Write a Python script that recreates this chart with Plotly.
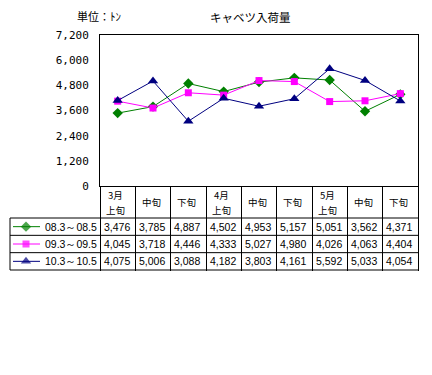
import plotly.graph_objects as go

# ---- data ----
periods = ["3月上旬", "3月中旬", "3月下旬", "4月上旬", "4月中旬", "4月下旬", "5月上旬", "5月中旬", "5月下旬"]
header_month = ["3月", "", "", "4月", "", "", "5月", "", ""]
header_part = ["上旬", "中旬", "下旬", "上旬", "中旬", "下旬", "上旬", "中旬", "下旬"]
series_names = ["08.3～08.5", "09.3～09.5", "10.3～10.5"]
s2008 = [3476, 3785, 4887, 4502, 4953, 5157, 5051, 3562, 4371]
s2009 = [4045, 3718, 4446, 4333, 5027, 4980, 4026, 4063, 4404]
s2010 = [4075, 5006, 3088, 4182, 3803, 4161, 5592, 5033, 4054]
y_ticks = [0, 1200, 2400, 3600, 4800, 6000, 7200]
title_text = "キャベツ入荷量"
unit_text = "単位：ﾄﾝ"

series = [s2008, s2009, s2010]
colors = ["#008000", "#FF00FF", "#000080"]
symbols = ["diamond", "square", "triangle-up"]
msizes = [8, 7, 9]

# ---- layout geometry (page pixels; the page body adds an 8px offset) ----
OFF = 8
W, H = 432 - OFF, 375 - OFF
PX_L, PX_R, PX_T, PX_B = 10 - OFF, 418 - OFF, 35 - OFF, 270 - OFF
PLOT_L, PLOT_B = 100 - OFF, 186 - OFF
ROW_TOP = 218 - OFF


def px_x(p):
    return (p - PX_L) / (PX_R - PX_L)


def px_y(p):
    return (PX_B - p) / (PX_B - PX_T)


CJK = "Noto Sans CJK JP"
NUMF = "Liberation Sans"

fig = go.Figure()

for k, vals in enumerate(series):
    fig.add_trace(go.Scatter(
        x=periods, y=vals, mode="lines+markers", name=series_names[k],
        line=dict(color=colors[k], width=1),
        marker=dict(symbol=symbols[k], size=msizes[k], color=colors[k], line=dict(width=0)),
        xaxis="x", yaxis="y", showlegend=False, cliponaxis=False,
    ))
    # legend key inside the table's first column
    row = 2.5 - k
    fig.add_trace(go.Scatter(
        x=[3 / 90, 16 / 90, 30 / 90], y=[row, row, row], mode="lines+markers",
        line=dict(color=colors[k], width=1),
        marker=dict(symbol=symbols[k], size=[0, msizes[k], 0], color=colors[k], line=dict(width=0)),
        xaxis="x2", yaxis="y2", showlegend=False, hoverinfo="skip", cliponaxis=False,
    ))

annotations = []
# header row
hdr_mid = (PLOT_B + ROW_TOP) / 2
for cat, mon, part in zip(periods, header_month, header_part):
    if mon:
        annotations.append(dict(
            text=mon, x=cat, xref="x", y=px_y(hdr_mid - 7.5), yref="paper",
            xanchor="center", yanchor="middle", borderpad=0,
            showarrow=False, xshift=-2, font=dict(family=CJK, size=9.5, color="black"),
        ))
        ypart = hdr_mid + 7.5
    else:
        ypart = hdr_mid
    annotations.append(dict(
        text=part, x=cat, xref="x", y=px_y(ypart), yref="paper",
        xanchor="center", yanchor="middle", borderpad=0,
        showarrow=False, xshift=-2, font=dict(family=CJK, size=9.5, color="black"),
    ))
# data rows
for k, vals in enumerate(series):
    for cat, v in zip(periods, vals):
        annotations.append(dict(
            text=f"{v:,}", x=cat, xref="x", y=2.5 - k, yref="y2",
            xanchor="center", yanchor="middle",
            showarrow=False, xshift=-1, font=dict(family=NUMF, size=10.5, color="black"),
        ))
    annotations.append(dict(
        text=series_names[k], x=33 / 90, xref="x2", xanchor="left", yanchor="middle",
        y=2.5 - k, yref="y2",
        showarrow=False, font=dict(family=NUMF, size=10.5, color="black"),
    ))
annotations.append(dict(
    text=title_text, x=px_x(250 - OFF), xref="paper", y=px_y(17 - OFF), yref="paper",
    xanchor="center", yanchor="middle",
    showarrow=False, font=dict(family=CJK, size=11.5, color="black"),
))
annotations.append(dict(
    text=unit_text, x=px_x(75 - OFF), xref="paper", xanchor="left", yanchor="middle",
    y=px_y(16 - OFF), yref="paper",
    showarrow=False, font=dict(family=CJK, size=11, color="black"),
))

shapes = []
for f in [0, 1 / 3, 2 / 3, 1]:
    shapes.append(dict(type="line", xref="paper", x0=0, x1=1, yref="y2 domain", y0=f, y1=f,
                       line=dict(color="black", width=1)))
shapes.append(dict(type="line", xref="paper", x0=0, x1=0, yref="y2 domain", y0=0, y1=1,
                   line=dict(color="black", width=1)))

fig.update_layout(
    width=W, height=H,
    margin=dict(l=PX_L, r=W - PX_R, t=PX_T, b=H - PX_B, pad=0, autoexpand=False),
    paper_bgcolor="white", plot_bgcolor="white",
    xaxis=dict(
        domain=[px_x(PLOT_L), 1], type="category", categoryorder="array", categoryarray=periods,
        range=[-0.5, 8.5], showticklabels=False, ticks="outside", tickson="boundaries",
        ticklen=PX_B - PLOT_B, tickwidth=1, tickcolor="black",
        showline=True, mirror=True, linecolor="black", linewidth=1, showgrid=False, zeroline=False,
        anchor="y", fixedrange=True,
    ),
    yaxis=dict(
        domain=[px_y(PLOT_B), 1], range=[0, 7200], tickvals=y_ticks, tickformat=",d",
        ticks="", ticklabelstandoff=8, showline=True, mirror=True, linecolor="black", linewidth=1,
        showgrid=False, zeroline=False, anchor="x",
        tickfont=dict(family="DejaVu Sans Mono", size=11, color="black"),
    ),
    xaxis2=dict(domain=[0, px_x(PLOT_L)], range=[0, 1], visible=False, anchor="y2"),
    yaxis2=dict(domain=[0, px_y(ROW_TOP)], range=[0, 3], visible=False, anchor="x2"),
    annotations=annotations, shapes=shapes, showlegend=False,
)

fig.write_html("out.html")
